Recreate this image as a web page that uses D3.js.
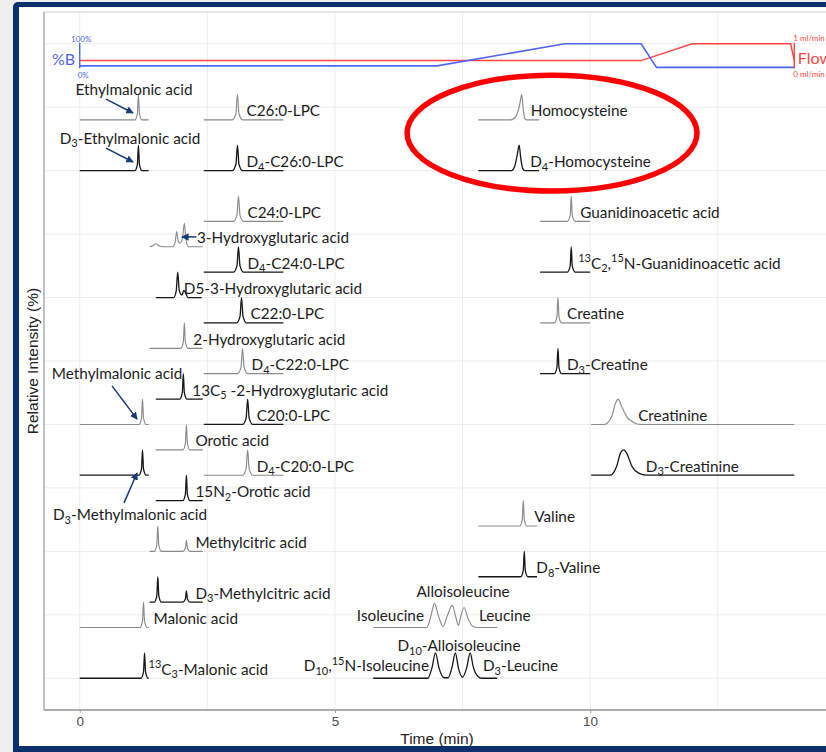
<!DOCTYPE html>
<html>
<head>
<meta charset="utf-8">
<script src="https://cdn.jsdelivr.net/npm/d3@7"></script>
<style>
  html, body { margin: 0; padding: 0; background: #efefef; }
  svg { display: block; }
</style>
</head>
<body>
<svg id="chart" width="826" height="752"></svg>
<script>
// ---------------------------------------------------------------
// Axis ticks and grid
// ---------------------------------------------------------------
const timeTicks = [0, 5, 10];
const timeGrid = [0, 2.5, 5, 7.5, 10, 12.5];
const levelGrid = [0, 250, 500, 750, 1000, 1250, 1500, 1750, 2000, 2250, 2500];

// Mobile-phase programme: [time (min), %B] and [time (min), flow (ml/min)]
const gradientB = [[0, 8], [7, 8], [9.5, 100], [11, 100], [11.3, 2], [14, 2]];
const flowRate = [[0, 0.3], [11, 0.3], [12, 1], [13.93, 1], [14, 0.3]];

// Extracted-ion chromatograms.  level = stacking baseline (relative-intensity units),
// points = [time (min), relative intensity (%)], tone: light = analyte, dark = labelled standard
const organicAcidTraces = [
  { name: "Ethylmalonic acid", label: "Ethylmalonic acid", tone: "light", level: 2200,
    points: [[0, 0], [1.08, 0], [1.13, 25], [1.15, 100], [1.17, 25], [1.22, 0], [1.35, 0]] },
  { name: "D3-Ethylmalonic acid", label: "D_{3}-Ethylmalonic acid", tone: "dark", level: 2000,
    points: [[0, 0], [1.08, 0], [1.13, 25], [1.15, 100], [1.17, 25], [1.22, 0], [1.35, 0]] },
  { name: "Methylmalonic acid", label: "Methylmalonic acid", tone: "light", level: 1000,
    points: [[0, 0], [1.16, 0], [1.21, 25], [1.23, 100], [1.25, 25], [1.30, 0], [1.35, 0]] },
  { name: "D3-Methylmalonic acid", label: "D_{3}-Methylmalonic acid", tone: "dark", level: 800,
    points: [[0, 0], [1.16, 0], [1.21, 25], [1.23, 100], [1.25, 25], [1.30, 0], [1.35, 0]] },
  { name: "Malonic acid", label: "Malonic acid", tone: "light", level: 200,
    points: [[0, 0], [1.18, 0], [1.23, 25], [1.25, 100], [1.27, 25], [1.32, 0], [1.35, 0]] },
  { name: "13C3-Malonic acid", label: "^{13}C_{3}-Malonic acid", tone: "dark", level: 0,
    points: [[0, 0], [1.20, 0], [1.25, 25], [1.27, 100], [1.29, 25], [1.34, 0], [1.35, 0]] },
  { name: "3-Hydroxyglutaric acid", label: "3-Hydroxyglutaric acid", tone: "light", level: 1700,
    points: [[1.37, 0], [1.42, 3], [1.49, 12], [1.56, 3], [1.63, 0], [1.82, 0], [1.87, 18], [1.90, 60],
             [1.93, 22], [1.96, 14], [2.01, 30], [2.05, 92], [2.08, 30], [2.13, 0], [2.41, 0]] },
  { name: "D5-3-Hydroxyglutaric acid", label: "D5-3-Hydroxyglutaric acid", tone: "dark", level: 1500,
    points: [[1.49, 0], [1.84, 0], [1.89, 25], [1.92, 100], [1.95, 28], [2.00, 10], [2.04, 28],
             [2.07, 20], [2.12, 0], [2.39, 0]] },
  { name: "2-Hydroxyglutaric acid", label: "2-Hydroxyglutaric acid", tone: "light", level: 1300,
    points: [[1.37, 0], [1.98, 0], [2.03, 25], [2.05, 100], [2.07, 25], [2.12, 0], [2.41, 0]] },
  { name: "13C5-2-Hydroxyglutaric acid", label: "13C_{5} -2-Hydroxyglutaric acid", tone: "dark", level: 1100,
    points: [[1.49, 0], [1.96, 0], [2.01, 25], [2.03, 100], [2.05, 25], [2.10, 0], [2.41, 0]] },
  { name: "Orotic acid", label: "Orotic acid", tone: "light", level: 900,
    points: [[1.49, 0], [2.02, 0], [2.07, 25], [2.09, 100], [2.11, 25], [2.16, 0], [2.41, 0]] },
  { name: "15N2-Orotic acid", label: "15N_{2}-Orotic acid", tone: "dark", level: 700,
    points: [[1.49, 0], [2.02, 0], [2.07, 25], [2.09, 100], [2.11, 25], [2.16, 0], [2.41, 0]] },
  { name: "Methylcitric acid", label: "Methylcitric acid", tone: "light", level: 500,
    points: [[1.37, 0], [1.46, 0], [1.51, 25], [1.53, 100], [1.55, 25], [1.60, 0], [2.02, 0],
             [2.07, 12], [2.09, 43], [2.11, 12], [2.16, 0], [2.41, 0]] },
  { name: "D3-Methylcitric acid", label: "D_{3}-Methylcitric acid", tone: "dark", level: 300,
    points: [[1.37, 0], [1.46, 0], [1.51, 25], [1.53, 100], [1.55, 25], [1.60, 0], [2.02, 0],
             [2.07, 12], [2.09, 44], [2.11, 12], [2.16, 0], [2.41, 0]] }
];

const lpcTraces = [
  { name: "C26:0-LPC", label: "C26:0-LPC", tone: "light", level: 2200,
    points: [[2.43, 0], [2.99, 0], [3.06, 25], [3.09, 100], [3.12, 25], [3.19, 0], [3.99, 0]] },
  { name: "D4-C26:0-LPC", label: "D_{4}-C26:0-LPC", tone: "dark", level: 2000,
    points: [[2.43, 0], [2.99, 0], [3.06, 25], [3.09, 100], [3.12, 25], [3.19, 0], [3.99, 0]] },
  { name: "C24:0-LPC", label: "C24:0-LPC", tone: "light", level: 1800,
    points: [[2.43, 0], [3.01, 0], [3.08, 25], [3.11, 100], [3.14, 25], [3.21, 0], [3.99, 0]] },
  { name: "D4-C24:0-LPC", label: "D_{4}-C24:0-LPC", tone: "dark", level: 1600,
    points: [[2.43, 0], [3.01, 0], [3.08, 25], [3.11, 100], [3.14, 25], [3.21, 0], [3.99, 0]] },
  { name: "C22:0-LPC", label: "C22:0-LPC", tone: "dark", level: 1400,
    points: [[2.43, 0], [3.07, 0], [3.14, 25], [3.17, 100], [3.20, 25], [3.27, 0], [3.99, 0]] },
  { name: "D4-C22:0-LPC", label: "D_{4}-C22:0-LPC", tone: "light", level: 1200,
    points: [[2.43, 0], [3.09, 0], [3.16, 25], [3.19, 100], [3.22, 25], [3.29, 0], [3.99, 0]] },
  { name: "C20:0-LPC", label: "C20:0-LPC", tone: "dark", level: 1000,
    points: [[2.43, 0], [3.19, 0], [3.26, 25], [3.29, 100], [3.32, 25], [3.39, 0], [3.99, 0]] },
  { name: "D4-C20:0-LPC", label: "D_{4}-C20:0-LPC", tone: "light", level: 800,
    points: [[2.43, 0], [3.19, 0], [3.26, 25], [3.29, 100], [3.32, 25], [3.39, 0], [3.99, 0]] }
];

const aminoAcidTraces = [
  { name: "Homocysteine", label: "Homocysteine", tone: "light", level: 2200,
    points: [[7.81, 0], [8.45, 0], [8.55, 15], [8.62, 60], [8.66, 100], [8.69, 40], [8.72, 5], [8.76, 0], [9.0, 0]] },
  { name: "D4-Homocysteine", label: "D_{4}-Homocysteine", tone: "dark", level: 2000,
    points: [[7.81, 0], [8.46, 0], [8.52, 15], [8.57, 60], [8.61, 100], [8.64, 50], [8.68, 8], [8.72, 0], [9.0, 0]] },
  { name: "Valine", label: "Valine", tone: "light", level: 600,
    points: [[7.81, 0], [8.62, 0], [8.67, 25], [8.69, 100], [8.71, 25], [8.76, 0], [8.96, 0]] },
  { name: "D8-Valine", label: "D_{8}-Valine", tone: "dark", level: 400,
    points: [[7.81, 0], [8.64, 0], [8.69, 25], [8.71, 100], [8.73, 25], [8.78, 0], [8.96, 0]] },
  { name: "Isoleucine / Alloisoleucine / Leucine", label: null, tone: "light", level: 200,
    points: [[5.75, 0], [6.80, 0], [6.88, 45], [6.95, 95], [7.03, 45], [7.12, 4], [7.20, 45], [7.30, 87],
             [7.37, 40], [7.42, 8], [7.46, 40], [7.53, 79], [7.61, 35], [7.70, 5], [7.78, 0], [8.18, 0]] },
  { name: "Labelled isoleucine / alloisoleucine / leucine", label: null, tone: "dark", level: 0,
    points: [[5.75, 0], [6.82, 0], [6.90, 40], [6.97, 100], [7.04, 40], [7.14, 2], [7.22, 2], [7.29, 40],
             [7.36, 100], [7.42, 40], [7.50, 4], [7.58, 40], [7.65, 100], [7.71, 45], [7.80, 8], [7.88, 0], [8.18, 0]] }
];

const creatineTraces = [
  { name: "Guanidinoacetic acid", label: "Guanidinoacetic acid", tone: "light", level: 1800,
    points: [[9.02, 0], [9.55, 0], [9.61, 25], [9.63, 100], [9.65, 25], [9.71, 0], [10.0, 0]] },
  { name: "13C2,15N-Guanidinoacetic acid", label: "^{13}C_{2},^{15}N-Guanidinoacetic acid", tone: "dark", level: 1600,
    points: [[9.02, 0], [9.55, 0], [9.61, 25], [9.63, 100], [9.65, 25], [9.71, 0], [10.0, 0]] },
  { name: "Creatine", label: "Creatine", tone: "light", level: 1400,
    points: [[9.02, 0], [9.30, 0], [9.35, 25], [9.37, 100], [9.39, 25], [9.44, 0], [10.0, 0]] },
  { name: "D3-Creatine", label: "D_{3}-Creatine", tone: "dark", level: 1200,
    points: [[9.02, 0], [9.30, 0], [9.35, 25], [9.37, 100], [9.39, 25], [9.44, 0], [10.0, 0]] },
  { name: "Creatinine", label: "Creatinine", tone: "light", level: 1000,
    points: [[10.02, 0], [10.28, 0], [10.42, 30], [10.50, 85], [10.55, 100], [10.62, 70], [10.72, 30],
             [10.85, 8], [11.0, 0], [14.0, 0]] },
  { name: "D3-Creatinine", label: "D_{3}-Creatinine", tone: "dark", level: 800,
    points: [[10.02, 0], [10.40, 0], [10.52, 35], [10.60, 90], [10.66, 100], [10.72, 85], [10.82, 35],
             [10.95, 8], [11.1, 0], [14.0, 0]] }
];

// Labels of the co-eluting branched-chain amino acids: [text, time, level, anchor]
const leucineLabels = [
  ["Isoleucine", 6.745, 249, "end"],
  ["Alloisoleucine", 7.51, 344, "middle"],
  ["Leucine", 7.823, 249, "start"],
  ["D_{10},^{15}N-Isoleucine", 6.843, 52, "end"],
  ["D_{10}-Alloisoleucine", 7.43, 131, "middle"],
  ["D_{3}-Leucine", 7.90, 52, "start"]
];

// Labels set away from their trace, with a pointer arrow
const callouts = [
  { name: "Ethylmalonic acid", at: [1.064, 2322], anchor: "middle", arrow: [[0.515, 2282], [1.044, 2227]] },
  { name: "D3-Ethylmalonic acid", at: [0.985, 2129], anchor: "middle", arrow: [[0.515, 2089], [1.044, 2034]] },
  { name: "Methylmalonic acid", at: [0.731, 1203], anchor: "middle", arrow: [[0.633, 1152], [1.123, 1021]] },
  { name: "D3-Methylmalonic acid", at: [0.985, 647], anchor: "middle", arrow: [[0.868, 691], [1.123, 809]] },
  { name: "3-Hydroxyglutaric acid", at: [2.298, 1739], anchor: "start", arrow: [[2.285, 1739], [2.0, 1739]] }
];

// ---------------------------------------------------------------
// Layout
// ---------------------------------------------------------------
const panel = { left: 44, right: 830, top: 12, bottom: 710 };
const labelFont = "Lato, 'Open Sans', sans-serif";
const axisFont = "'Liberation Sans', Arial, sans-serif";
const toneColor = { light: "#8a8a8a", dark: "#161616" };
const navy = "#163a7a";
const blue = "#4f66ee";
const red = "#ff4545";

const svg = d3.select("#chart");

const x = d3.scaleLinear().domain([-0.7, 14.7]).range([panel.left, panel.right]);
const y = d3.scaleLinear().domain([-125, 2625]).range([panel.bottom, panel.top]);

// Slide frame
svg.append("rect").attr("x", 13).attr("y", 2).attr("width", 840).attr("height", 770)
  .attr("rx", 5).attr("fill", "#0c2f6e");
svg.append("rect").attr("x", 19).attr("y", 7).attr("width", 830).attr("height", 739)
  .attr("fill", "#ffffff");

// Panel grid
const gridG = svg.append("g");
gridG.selectAll("line.v").data(timeGrid).join("line")
  .attr("x1", d => x(d)).attr("x2", d => x(d))
  .attr("y1", panel.top).attr("y2", panel.bottom)
  .attr("stroke", "#ececec").attr("stroke-width", 1);
gridG.selectAll("line.h").data(levelGrid).join("line")
  .attr("x1", panel.left).attr("x2", panel.right)
  .attr("y1", d => y(d)).attr("y2", d => y(d))
  .attr("stroke", "#ececec").attr("stroke-width", 1);

svg.append("rect")
  .attr("x", panel.left).attr("y", panel.top)
  .attr("width", panel.right - panel.left).attr("height", panel.bottom - panel.top)
  .attr("fill", "none").attr("stroke", "#cfcfcf").attr("stroke-width", 1);
svg.append("line").attr("x1", panel.left).attr("x2", panel.left)
  .attr("y1", panel.top).attr("y2", panel.bottom)
  .attr("stroke", "#a8a8a8").attr("stroke-width", 1.2);

// Time axis
const xAxis = svg.append("g")
  .attr("transform", `translate(0,${panel.bottom})`)
  .call(d3.axisBottom(x).tickValues(timeTicks).tickSize(3).tickPadding(3).tickFormat(d3.format("d")));
xAxis.select(".domain").remove();
xAxis.append("line").attr("x1", panel.left).attr("x2", panel.right)
  .attr("y1", 0).attr("y2", 0).attr("stroke", "#9a9a9a").attr("stroke-width", 1.6);
xAxis.selectAll(".tick line").attr("stroke", "#9a9a9a");
xAxis.selectAll(".tick text").attr("fill", "#4d4d4d")
  .style("font-family", axisFont).style("font-size", "13.5px");

svg.append("text")
  .attr("x", (panel.left + panel.right) / 2).attr("y", 744)
  .attr("text-anchor", "middle")
  .style("font-family", axisFont).style("font-size", "15.5px").attr("fill", "#222")
  .text("Time (min)");
svg.append("text")
  .attr("transform", `translate(38,${(panel.top + panel.bottom) / 2}) rotate(-90)`)
  .attr("text-anchor", "middle")
  .style("font-family", axisFont).style("font-size", "15.5px").attr("fill", "#222")
  .text("Relative Intensity (%)");

// Mobile-phase programme overlay
const overlayLow = y(2405), overlayHigh = y(2500);
const yB = d3.scaleLinear().domain([0, 100]).range([overlayLow, overlayHigh]);
const yFlow = d3.scaleLinear().domain([0, 1]).range([overlayLow, overlayHigh]);
const overlay = svg.append("g");
overlay.append("path").datum(flowRate)
  .attr("d", d3.line().x(d => x(d[0])).y(d => yFlow(d[1])))
  .attr("fill", "none").attr("stroke", red).attr("stroke-width", 1.5);
overlay.append("path").datum(gradientB)
  .attr("d", d3.line().x(d => x(d[0])).y(d => yB(d[1])))
  .attr("fill", "none").attr("stroke", blue).attr("stroke-width", 1.6);
overlay.append("line").attr("x1", x(0)).attr("x2", x(0))
  .attr("y1", yB(100) - 1).attr("y2", yB(0) + 0.5)
  .attr("stroke", blue).attr("stroke-width", 1.4);
overlay.append("line").attr("x1", x(14)).attr("x2", x(14))
  .attr("y1", yFlow(1) - 1).attr("y2", yFlow(0) + 0.5)
  .attr("stroke", red).attr("stroke-width", 1.4);

const smallText = (txt, px, py, color, anchor, size) =>
  overlay.append("text").attr("x", px).attr("y", py)
    .attr("text-anchor", anchor).attr("dominant-baseline", "central")
    .style("font-family", labelFont).style("font-size", size + "px")
    .attr("fill", color).text(txt);
smallText("100%", x(0) + 1.5, yB(100) - 5, blue, "middle", 8);
smallText("0%", x(0) - 2, yB(0) + 7.5, blue, "start", 8);
smallText("%B", x(0) - 4.5, (yB(100) + yB(0)) / 2 + 3, blue, "end", 16);
smallText("1 ml/min", x(14) - 1, yFlow(1) - 6, red, "start", 8);
smallText("0 ml/min", x(14) - 1, yFlow(0) + 6, red, "start", 8);
smallText("Flow", x(14) + 3.5, (yFlow(1) + yFlow(0)) / 2 + 2, red, "start", 16);

// ---------------------------------------------------------------
// Chromatogram traces
// ---------------------------------------------------------------
const allTraces = [...organicAcidTraces, ...lpcTraces, ...aminoAcidTraces, ...creatineTraces];
const traceG = svg.append("g");
traceG.selectAll("path").data(allTraces).join("path")
  .attr("d", t => d3.line()
    .x(d => x(d[0]))
    .y(d => y(t.level + d[1]))
    .curve(d3.curveMonotoneX)(t.points))
  .attr("fill", "none")
  .attr("stroke", t => toneColor[t.tone])
  .attr("stroke-width", t => t.tone === "dark" ? 1.3 : 1.15)
  .attr("stroke-linejoin", "round");

// Rich text with _{sub} and ^{sup} markup
function richText(sel, str, size) {
  const parts = str.split(/(_\{[^}]*\}|\^\{[^}]*\})/).filter(s => s.length);
  let shift = 0;
  parts.forEach(p => {
    let target = 0, fs = size, txt = p;
    if (p.startsWith("_{")) { target = size * 0.3; fs = size * 0.72; txt = p.slice(2, -1); }
    else if (p.startsWith("^{")) { target = -size * 0.35; fs = size * 0.72; txt = p.slice(2, -1); }
    sel.append("tspan").attr("dy", target - shift).style("font-size", fs + "px").text(txt);
    shift = target;
  });
}

const labelSize = 15.3;
const labelG = svg.append("g")
  .style("font-family", labelFont).style("font-size", labelSize + "px").attr("fill", "#1c1c1c");

function addLabel(str, px, py, anchor) {
  const t = labelG.append("text").attr("x", px).attr("y", py)
    .attr("text-anchor", anchor).attr("dominant-baseline", "central");
  richText(t, str, labelSize);
}

// Horizontal gap between apex and label where it differs from the usual one
const labelGap = {
  "D5-3-Hydroxyglutaric acid": 0, "13C3-Malonic acid": 4, "Malonic acid": 10,
  "13C2,15N-Guanidinoacetic acid": 7, "Creatinine": 20, "D3-Creatinine": 22,
  "D4-Homocysteine": 11, "Valine": 11, "D8-Valine": 12
};

function lastApex(points) {
  let apex = points[0][0];
  for (let i = 1; i < points.length - 1; i++) {
    const v = points[i][1];
    if (v >= 25 && v >= points[i - 1][1] && v >= points[i + 1][1]) apex = points[i][0];
  }
  return apex;
}

const calloutNames = new Set(callouts.map(c => c.name));
allTraces.forEach(t => {
  if (!t.label || calloutNames.has(t.name)) return;
  const gap = labelGap[t.name] !== undefined ? labelGap[t.name] : 9;
  addLabel(t.label, x(lastApex(t.points)) + gap, y(t.level) - 9.5, "start");
});

leucineLabels.forEach(([txt, tm, lv, anchor]) => addLabel(txt, x(tm), y(lv), anchor));

// Callout labels with arrows
svg.append("defs").append("marker")
  .attr("id", "arrowHead").attr("viewBox", "0 0 10 10")
  .attr("refX", 9).attr("refY", 5)
  .attr("markerWidth", 5).attr("markerHeight", 5)
  .attr("orient", "auto-start-reverse")
  .append("path").attr("d", "M0,0 L10,5 L0,10 z").attr("fill", navy);

const byName = new Map(allTraces.map(t => [t.name, t]));
callouts.forEach(c => {
  const t = byName.get(c.name);
  addLabel(t.label, x(c.at[0]), y(c.at[1]), c.anchor);
  svg.append("line")
    .attr("x1", x(c.arrow[0][0])).attr("y1", y(c.arrow[0][1]))
    .attr("x2", x(c.arrow[1][0])).attr("y2", y(c.arrow[1][1]))
    .attr("stroke", navy).attr("stroke-width", 1.5)
    .attr("marker-end", "url(#arrowHead)");
});

// Highlight around the homocysteine pair
const ringCentre = [9.254, 2148];
svg.append("ellipse")
  .attr("cx", x(ringCentre[0])).attr("cy", y(ringCentre[1]))
  .attr("rx", x(ringCentre[0] + 2.84) - x(ringCentre[0]))
  .attr("ry", y(ringCentre[1]) - y(ringCentre[1] + 228))
  .attr("fill", "none").attr("stroke", "#ff0000").attr("stroke-width", 5.5);
</script>
</body>
</html>
